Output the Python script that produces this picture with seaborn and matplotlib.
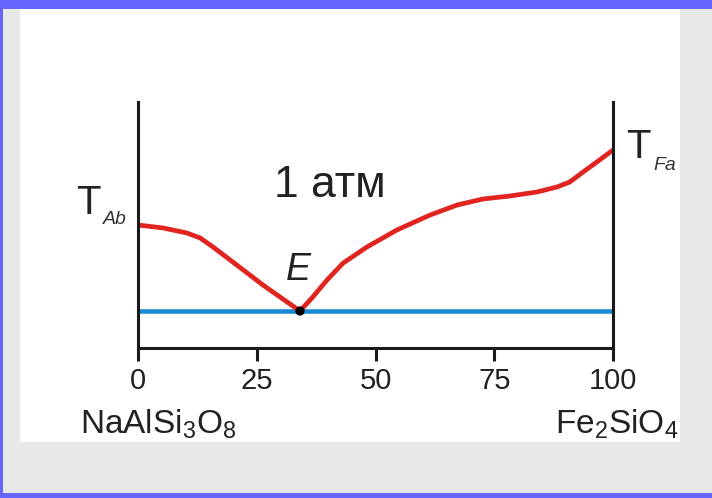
import numpy as np
import matplotlib
matplotlib.use('Agg')
import matplotlib.pyplot as plt
from matplotlib.patches import Rectangle
import seaborn as sns

# liquidus points (x = mol %, y = relative temperature)
liq_x = [0, 5.3, 10.3, 13.1, 15.8, 19.4, 23.0, 26.3, 29.9, 34.1,
         36.8, 39.8, 43.2, 48.2, 54.5, 61.5, 67.2, 72.6, 78.3, 84.0,
         88.2, 90.9, 93.7, 96.6, 100]
liq_y = [123, 120, 115, 110, 101, 88, 75, 63, 51, 37,
         51, 68, 85, 101, 118, 133, 143, 149, 152, 156,
         161, 166, 176, 186, 198]
sol_x = [0, 100]
sol_y = [37, 37]
eut_x = [34.1]
eut_y = [37]
xticks = [0, 25, 50, 75, 100]

sns.set_style('white')
plt.rcParams['font.family'] = ['Liberation Sans', 'DejaVu Sans']
plt.rcParams['mathtext.fontset'] = 'custom'
plt.rcParams['mathtext.rm'] = 'Liberation Sans'
plt.rcParams['mathtext.it'] = 'Liberation Sans:italic'

W, H = 712, 498
fig = plt.figure(figsize=(W/100, H/100), dpi=100)
fig.patch.set_facecolor('#e8e8e8')

def px(x, y):
    return x/W, 1 - y/H

# frame: white panel + blue edges
for (x0, y0, w, h, c) in [(20, 442, 660, 433, 'white'), (0, 9, W, 9, '#6666ff'),
                          (0, H, 2.5, H, '#6666ff'), (0, H, W, 5, '#6666ff')]:
    fig.patches.append(Rectangle((x0/W, 1-y0/H), w/W, h/H, transform=fig.transFigure,
                                 facecolor=c, edgecolor='none', zorder=-5))

ax = fig.add_axes([138/W, 1-348/H, 475/W, 246/H])
ax.set_zorder(3)
ax.set_facecolor('none')

sns.lineplot(x=sol_x, y=sol_y, ax=ax, color='#1a8bd0', lw=3.3, estimator=None)
sns.lineplot(x=liq_x, y=liq_y, ax=ax, color='#e0241f', lw=3.4, estimator=None, sort=False)
ax.lines[-1].set_solid_joinstyle('round')
sns.scatterplot(x=eut_x, y=eut_y, ax=ax, color='black', s=45, zorder=5, edgecolor='none')

ax.set_xlim(0, 100)
ax.set_ylim(0, 246)
ax.set_xticks(xticks)
ax.set_xticklabels([str(t) for t in xticks])
ax.set_yticks([])
ax.spines['top'].set_visible(False)
for s in ['left', 'right', 'bottom']:
    ax.spines[s].set_linewidth(2.2)
    ax.spines[s].set_color('#1a1a1a')
ax.tick_params(axis='x', direction='out', length=9, width=2.2, color='#1a1a1a',
               pad=5, labelsize=21, labelcolor='#222222', bottom=True)

ax.text(40.4, 163, '1 атм', fontsize=32, ha='center', va='center', color='#222222')
ax.text(33.8, 78, 'E', fontsize=27, style='italic', ha='center', va='center', color='#222222')

fig.text(*px(88, 203), 'T', fontsize=29, ha='center', va='center', color='#222222', zorder=4)
fig.text(*px(115, 219), 'Ab', fontsize=14, style='italic', ha='center', va='center', color='#333333', zorder=4)
fig.text(*px(638, 147), 'T', fontsize=29, ha='center', va='center', color='#222222', zorder=4)
fig.text(*px(665, 166), 'Fa', fontsize=14, style='italic', ha='center', va='center', color='#333333', zorder=4)

fig.text(*px(158, 424), r'NaAlSi$_\mathregular{3}$O$_\mathregular{8}$', fontsize=24,
         ha='center', va='center', color='#222222', zorder=4)
fig.text(*px(617, 424), r'Fe$_\mathregular{2}$SiO$_\mathregular{4}$', fontsize=24,
         ha='center', va='center', color='#222222', zorder=4)

fig.savefig('out.png', dpi=100, facecolor=fig.get_facecolor())
